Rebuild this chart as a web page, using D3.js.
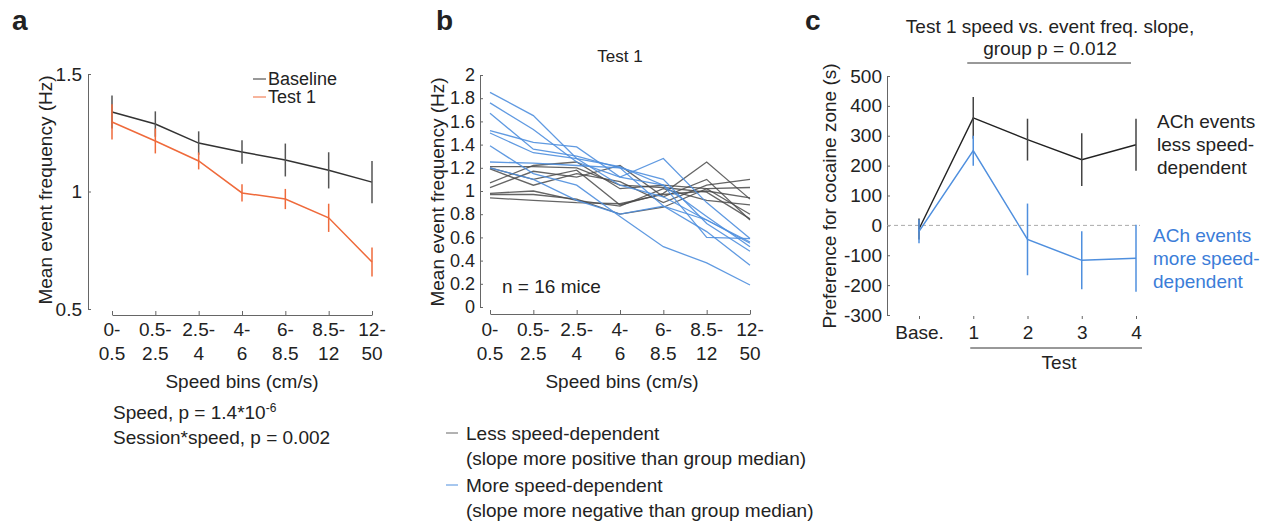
<!DOCTYPE html>
<html>
<head>
<meta charset="utf-8">
<script src="https://cdn.jsdelivr.net/npm/d3@7"></script>
<style>
  body { margin: 0; background: #fff; }
  svg text { font-family: "Liberation Sans", Arial, sans-serif; fill: #222; }
  .axis path, .axis line { stroke: #666; }
  .axis text { font-size: 19px; fill: #222; }
  .axis.small text { font-size: 18px; }
</style>
</head>
<body>
<script>
// ---- data ----
const speedBins = ["0-|0.5", "0.5-|2.5", "2.5-|4", "4-|6", "6-|8.5", "8.5-|12", "12-|50"];

const baselineMean = [1.338, 1.287, 1.206, 1.168, 1.134, 1.09, 1.04];
const baselineErr  = [0.07, 0.054, 0.05, 0.05, 0.07, 0.077, 0.09];
const test1Mean    = [1.296, 1.215, 1.13, 0.994, 0.968, 0.888, 0.70];
const test1Err     = [0.075, 0.053, 0.036, 0.037, 0.043, 0.06, 0.062];

const lessDep = [
  [1.20, 1.10, 1.18, 0.88, 0.98, 1.25, 0.93],
  [1.19, 1.05, 1.15, 1.08, 0.90, 1.05, 1.10],
  [1.07, 1.22, 1.25, 1.02, 1.05, 1.02, 1.03],
  [1.03, 1.17, 1.12, 1.22, 0.95, 1.10, 0.75],
  [0.98, 1.00, 0.92, 0.87, 1.02, 0.92, 0.88],
  [0.97, 0.97, 0.93, 0.80, 0.86, 1.02, 0.80],
  [0.94, 0.92, 0.90, 0.89, 0.97, 1.00, 0.94],
  [1.21, 1.21, 1.20, 1.05, 1.03, 0.99, 0.76]
];
const moreDep = [
  [1.85, 1.65, 1.28, 1.05, 0.95, 0.75, 0.55],
  [1.76, 1.53, 1.25, 1.12, 1.05, 0.78, 0.52],
  [1.67, 1.36, 1.30, 1.20, 1.10, 0.72, 0.48],
  [1.52, 1.42, 1.38, 1.12, 1.28, 0.90, 0.59],
  [1.50, 1.33, 1.28, 1.21, 1.05, 0.60, 0.59],
  [1.39, 1.15, 1.05, 0.78, 0.52, 0.38, 0.19],
  [1.25, 1.24, 1.22, 1.20, 0.87, 0.65, 0.36],
  [1.20, 1.10, 0.92, 0.80, 0.87, 0.75, 0.56]
];

const sessions = ["Base.", "1", "2", "3", "4"];
const lessPref = [-12, 360, 287, 220, 270];
const lessPrefErr = [35, 70, 70, 88, 87];
const morePref = [-20, 250, -47, -117, -110];
const morePrefErr = [40, 50, 120, 97, 112];

const yTicksA = [0.5, 1, 1.5];
const yTicksB = [0, 0.2, 0.4, 0.6, 0.8, 1, 1.2, 1.4, 1.6, 1.8, 2];
const yTicksC = [-300, -200, -100, 0, 100, 200, 300, 400, 500];

const black = "#333", orange = "#ef6a3b", blue = "#4f8fde", blueText = "#3b7dd8", grey = "#555";
const fs = "19px";

const svg = d3.select("body").append("svg")
  .attr("width", 1269).attr("height", 522);

// helper: x tick labels on two lines
function binLabels(g, x, y0) {
  g.selectAll(".bin").data(speedBins).join("text")
    .attr("class", "bin")
    .attr("text-anchor", "middle")
    .style("font-size", fs)
    .each(function(d) {
      const parts = d.split("|");
      const t = d3.select(this);
      t.append("tspan").attr("x", x(d)).attr("y", y0).text(parts[0]);
      t.append("tspan").attr("x", x(d)).attr("y", y0 + 24).text(parts[1]);
    });
}

function errBars(g, x, y, keys, mean, err, color) {
  g.selectAll(null).data(keys).join("line")
    .attr("x1", d => x(d)).attr("x2", d => x(d))
    .attr("y1", (d, i) => y(mean[i] - err[i]))
    .attr("y2", (d, i) => y(mean[i] + err[i]))
    .attr("stroke", color).attr("stroke-width", 1.5);
}

// ================= panel a =================
const xA = d3.scalePoint().domain(speedBins).range([112, 372]);
const yA = d3.scaleLinear().domain([0.5, 1.5]).range([309, 74]);
const gA = svg.append("g");

gA.append("text").attr("x", 12).attr("y", 30).text("a")
  .style("font-size", "28px").style("font-weight", "bold");

gA.append("g").attr("class", "axis").attr("transform", "translate(88,0)")
  .call(d3.axisLeft(yA).tickValues(yTicksA).tickSize(-3).tickPadding(6).tickFormat(d => String(d)));
gA.append("g").attr("class", "axis").attr("transform", "translate(0,315)")
  .call(d3.axisBottom(xA).tickSize(-4).tickSizeOuter(0).tickFormat(""));
binLabels(gA, xA, 336);

const lineA = d3.line().x((d, i) => xA(speedBins[i])).y(d => yA(d));
gA.append("path").attr("d", lineA(baselineMean)).attr("fill", "none").attr("stroke", black).attr("stroke-width", 1.5);
errBars(gA, xA, yA, speedBins, baselineMean, baselineErr, grey);
gA.append("path").attr("d", lineA(test1Mean)).attr("fill", "none").attr("stroke", orange).attr("stroke-width", 1.5);
errBars(gA, xA, yA, speedBins, test1Mean, test1Err, orange);

gA.append("line").attr("x1", 253).attr("x2", 266).attr("y1", 79).attr("y2", 79).attr("stroke", black);
gA.append("text").attr("x", 268).attr("y", 85).text("Baseline").style("font-size", "18px");
gA.append("line").attr("x1", 253).attr("x2", 266).attr("y1", 97).attr("y2", 97).attr("stroke", orange);
gA.append("text").attr("x", 268).attr("y", 103).text("Test 1").style("font-size", "18px");

gA.append("text").attr("transform", "translate(52,190) rotate(-90)").attr("text-anchor", "middle")
  .style("font-size", fs).text("Mean event frequency (Hz)");
gA.append("text").attr("x", 242).attr("y", 388).attr("text-anchor", "middle")
  .style("font-size", fs).text("Speed bins (cm/s)");

const st = gA.append("text").attr("x", 113).attr("y", 419).style("font-size", fs);
st.append("tspan").text("Speed, p = 1.4*10");
st.append("tspan").attr("dy", -7).style("font-size", "12px").text("-6");
gA.append("text").attr("x", 113).attr("y", 444).style("font-size", fs).text("Session*speed, p = 0.002");

// ================= panel b =================
const xB = d3.scalePoint().domain(speedBins).range([490, 750]);
const yB = d3.scaleLinear().domain([0, 2]).range([307, 75]);
const gB = svg.append("g");

gB.append("text").attr("x", 436).attr("y", 30).text("b")
  .style("font-size", "28px").style("font-weight", "bold");
gB.append("text").attr("x", 620).attr("y", 62).attr("text-anchor", "middle")
  .style("font-size", "17px").text("Test 1");

gB.append("g").attr("class", "axis small").attr("transform", "translate(480,0)")
  .call(d3.axisLeft(yB).tickValues(yTicksB).tickSize(-3).tickPadding(5).tickFormat(d => String(+d.toFixed(1))));
gB.append("g").attr("class", "axis").attr("transform", "translate(0,314)")
  .call(d3.axisBottom(xB).tickSize(-4).tickSizeOuter(0).tickFormat(""));
binLabels(gB, xB, 336);

const lineB = d3.line().x((d, i) => xB(speedBins[i])).y(d => yB(d));
gB.selectAll(".less").data(lessDep).join("path").attr("class", "less")
  .attr("d", lineB).attr("fill", "none").attr("stroke", "#4a4a4a").attr("stroke-opacity", 0.85).attr("stroke-width", 1.3);
gB.selectAll(".more").data(moreDep).join("path").attr("class", "more")
  .attr("d", lineB).attr("fill", "none").attr("stroke", blue).attr("stroke-opacity", 0.9).attr("stroke-width", 1.3);

gB.append("text").attr("x", 502).attr("y", 293).style("font-size", fs).text("n = 16 mice");
gB.append("text").attr("transform", "translate(444,192) rotate(-90)").attr("text-anchor", "middle")
  .style("font-size", fs).text("Mean event frequency (Hz)");
gB.append("text").attr("x", 622).attr("y", 388).attr("text-anchor", "middle")
  .style("font-size", fs).text("Speed bins (cm/s)");

gB.append("line").attr("x1", 446).attr("x2", 458).attr("y1", 433).attr("y2", 433).attr("stroke", "#666");
gB.append("text").attr("x", 466).attr("y", 440).style("font-size", fs).text("Less speed-dependent");
gB.append("text").attr("x", 466).attr("y", 465).style("font-size", fs).text("(slope more positive than group median)");
gB.append("line").attr("x1", 446).attr("x2", 458).attr("y1", 485).attr("y2", 485).attr("stroke", blue);
gB.append("text").attr("x", 466).attr("y", 492).style("font-size", fs).text("More speed-dependent");
gB.append("text").attr("x", 466).attr("y", 517).style("font-size", fs).text("(slope more negative than group median)");

// ================= panel c =================
const xC = d3.scalePoint().domain(sessions).range([919, 1136]);
const yC = d3.scaleLinear().domain([-300, 500]).range([315, 76]);
const gC = svg.append("g");

gC.append("text").attr("x", 805).attr("y", 30).text("c")
  .style("font-size", "28px").style("font-weight", "bold");
gC.append("text").attr("x", 1050).attr("y", 33).attr("text-anchor", "middle")
  .style("font-size", fs).text("Test 1 speed vs. event freq. slope,");
gC.append("text").attr("x", 1050).attr("y", 55).attr("text-anchor", "middle")
  .style("font-size", fs).text("group p = 0.012");
gC.append("line").attr("x1", xC("1") - 6).attr("x2", xC("4") - 5).attr("y1", 63).attr("y2", 63).attr("stroke", "#333");

gC.append("g").attr("class", "axis").attr("transform", "translate(887,0)")
  .call(d3.axisLeft(yC).tickValues(yTicksC).tickSize(-3).tickPadding(5).tickFormat(d => String(d)));
const axC = gC.append("g").attr("class", "axis").attr("transform", "translate(0,315)")
  .call(d3.axisBottom(xC).tickSize(4).tickPadding(7));
axC.select(".domain").remove();
axC.selectAll(".tick line").attr("y1", 1).attr("y2", 4);

gC.append("line").attr("x1", 887).attr("x2", 1140).attr("y1", yC(0)).attr("y2", yC(0))
  .attr("stroke", "#aaa").attr("stroke-dasharray", "4,3");

gC.append("line").attr("x1", xC("1") - 3).attr("x2", xC("4") + 6).attr("y1", 348).attr("y2", 348).attr("stroke", "#333");
gC.append("text").attr("x", 1059).attr("y", 369).attr("text-anchor", "middle").style("font-size", fs).text("Test");

const lineC = d3.line().x((d, i) => xC(sessions[i])).y(d => yC(d));
gC.append("path").attr("d", lineC(lessPref)).attr("fill", "none").attr("stroke", "#222").attr("stroke-width", 1.4);
errBars(gC, xC, yC, sessions, lessPref, lessPrefErr, "#444");
gC.append("path").attr("d", lineC(morePref)).attr("fill", "none").attr("stroke", blue).attr("stroke-width", 1.5);
errBars(gC, xC, yC, sessions, morePref, morePrefErr, blue);

gC.append("text").attr("transform", "translate(836,196) rotate(-90)").attr("text-anchor", "middle")
  .style("font-size", fs).text("Preference for cocaine zone (s)");

[["ACh events", 128], ["less speed-", 151], ["dependent", 174]].forEach(([t, y]) =>
  gC.append("text").attr("x", 1157).attr("y", y).style("font-size", fs).text(t));
[["ACh events", 242], ["more speed-", 265], ["dependent", 288]].forEach(([t, y]) =>
  gC.append("text").attr("x", 1153).attr("y", y).style("font-size", fs).style("fill", blueText).text(t));
</script>
</body>
</html>
